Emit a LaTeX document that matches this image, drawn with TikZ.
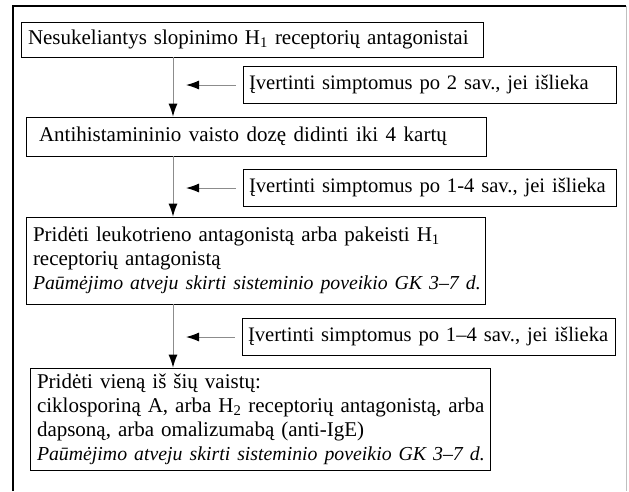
\documentclass[tikz,border=0pt]{standalone}
\usepackage{fontspec}
\setmainfont{Liberation Serif}
\usepackage{tikz}
\usetikzlibrary{positioning,arrows.meta}

\newcommand{\note}[1]{\mbox{\fontsize{19.8}{24}\selectfont\itshape #1}}

\begin{document}
\begin{tikzpicture}[
    x=1pt, y=-1pt,
    stepbox/.style={draw, line width=0.8pt, rectangle, align=left, inner xsep=7pt, inner ysep=3pt, font=\fontsize{21}{24}\selectfont},
    checkbox/.style={stepbox, text width=361pt, inner xsep=6pt, minimum height=37pt, font=\fontsize{20.6}{24}\selectfont},
    flow/.style={draw=black!45, line width=1pt, -{Latex[length=13pt,width=9pt,color=black]}},
    frame/.style={line width=1.4pt},
  ]
  \useasboundingbox (0,0) rectangle (629,491);

  % Outer frame (cut off at the bottom)
  \draw[frame] (13,491) -- (13,6) -- (626,6);
  \draw[black!25, line width=1pt] (626,6) -- (626,491);

  % Treatment steps
  \node[stepbox, text width=448pt, minimum height=35pt] (s1) at (252,39.5)
    {\mbox{Nesukeliantys slopinimo H\textsubscript{1} receptorių antagonistai}};
  \node[stepbox, text width=446pt, minimum height=39pt] (s2) at (256,136.5)
    {\hspace{6pt}{\spaceskip=7.5pt Antihistamininio vaisto dozę didinti iki 4 kartų}};
  \node[stepbox, text width=445pt, minimum height=87pt] (s3) at (255.5,260.5)
    {\mbox{Pridėti leukotrieno antagonistą arba pakeisti H\textsubscript{1}}\\
     receptorių antagonistą\\
     \note{Paūmėjimo atveju skirti sisteminio poveikio GK 3–7 d.}};
  \node[stepbox, text width=446pt, minimum height=102pt] (s4) at (260,419)
    {Pridėti vieną iš šių vaistų:\\
     \mbox{ciklosporiną A, arba H\textsubscript{2} receptorių antagonistą, arba}\\
     dapsoną, arba omalizumabą (anti-IgE)\\
     \note{Paūmėjimo atveju skirti sisteminio poveikio GK 3–7 d.}};

  % Checks between the steps
  \node[checkbox] (c1) at (429.5,85)  {\mbox{Įvertinti simptomus po 2 sav., jei išlieka}};
  \node[checkbox] (c2) at (429.5,188) {\mbox{Įvertinti simptomus po 1-4 sav., jei išlieka}};
  \node[checkbox] (c3) at (428.5,337) {\mbox{Įvertinti simptomus po 1–4 sav., jei išlieka}};

  % Arrows
  \coordinate (axis) at (173,0);
  \coordinate (tip) at (186,0);
  \draw[flow] (s1.south -| axis) -- (s2.north -| axis);
  \draw[flow] (s2.south -| axis) -- (s3.north -| axis);
  \draw[flow] (s3.south -| axis) -- (s4.north -| axis);
  \draw[flow] ([xshift=-7pt]c1.west) -- (c1.west -| tip);
  \draw[flow] ([xshift=-7pt]c2.west) -- (c2.west -| tip);
  \draw[flow] ([xshift=-7pt]c3.west) -- (c3.west -| tip);
\end{tikzpicture}
\end{document}
